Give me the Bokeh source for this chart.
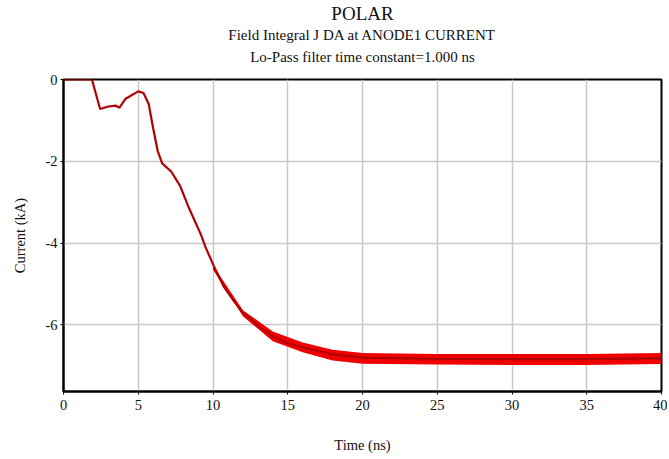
from bokeh.plotting import figure
from bokeh.models import Range1d, Title, FixedTicker, PrintfTickFormatter
from bokeh.embed import file_html
from bokeh.resources import INLINE

# Data
time_ns = [0, 1.9, 2.45, 3.0, 3.5, 3.75, 4.15, 5.0, 5.35, 5.7, 6.0, 6.3, 6.6, 7.2,
           7.8, 8.4, 9.2, 9.5, 10.1, 10.7, 11.4, 12.0, 12.5, 13.2, 14.0, 15.0, 16.0,
           18.0, 20.0, 25.0, 30.0, 35.0, 40.0]
current_ka = [0, 0, -0.72, -0.66, -0.64, -0.69, -0.47, -0.29, -0.33, -0.6, -1.2, -1.75,
              -2.05, -2.25, -2.6, -3.15, -3.8, -4.1, -4.6, -5.05, -5.42, -5.7, -5.85,
              -6.08, -6.28, -6.45, -6.55, -6.72, -6.80, -6.83, -6.84, -6.84, -6.82]

# Ripple envelope of the trace
ripple_t = [10, 12, 14, 16, 18, 20, 25, 30, 35, 40]
ripple_hi = [-4.55, -5.64, -6.16, -6.43, -6.61, -6.69, -6.71, -6.71, -6.71, -6.69]
ripple_lo = [-4.65, -5.79, -6.40, -6.67, -6.87, -6.95, -6.97, -6.98, -6.98, -6.96]

x_ticks = [0, 5, 10, 15, 20, 25, 30, 35, 40]
y_ticks = [0, -2, -4, -6]

FONT = "Liberation Serif"

p = figure(width=667, height=457, output_backend="svg", toolbar_location=None,
           x_range=Range1d(0, 40), y_range=Range1d(-7.63, 0),
           min_border_left=63, min_border_right=6, min_border_bottom=66, min_border_top=6)
p.title = Title(text="")
p.title.visible = False

p.add_layout(Title(text=" ", text_font_size="10px", standoff=0), "above")
for txt, size, so in [("Lo-Pass filter time constant=1.000 ns", "15px", 4),
                      ("Field Integral J DA at ANODE1 CURRENT", "15px", 3),
                      ("POLAR", "19px", 0)]:
    t = Title(text=txt, align="center", text_font=FONT, text_font_size=size,
              text_font_style="normal", text_color="#111111", standoff=so)
    p.add_layout(t, "above")

p.outline_line_color = "black"
p.outline_line_width = 2
p.background_fill_color = "white"
p.border_fill_color = "white"

p.xgrid.grid_line_color = "#c8c8c8"
p.ygrid.grid_line_color = "#c8c8c8"
p.xgrid.grid_line_width = 1.5
p.ygrid.grid_line_width = 1.5

p.xaxis.ticker = FixedTicker(ticks=x_ticks)
p.yaxis.ticker = FixedTicker(ticks=y_ticks)
p.yaxis.formatter = PrintfTickFormatter(format="%d")
for ax in (p.xaxis[0], p.yaxis[0]):
    ax.axis_line_color = "black"
    ax.axis_line_width = 2
    ax.major_tick_in = 0
    ax.major_tick_out = 3
    ax.minor_tick_line_color = None
    ax.major_label_text_font = FONT
    ax.major_label_text_font_size = "14.5px"
    ax.major_label_text_color = "#111111"
    ax.axis_label_text_font = FONT
    ax.axis_label_text_font_size = "14.5px"
    ax.axis_label_text_font_style = "normal"
    ax.axis_label_text_color = "#111111"

p.xaxis.major_label_standoff = 5
p.add_layout(Title(text=" ", text_font_size="18px", standoff=0), "below")
p.add_layout(Title(text="Time (ns)", align="center", text_font=FONT, text_font_size="14.5px",
                   text_font_style="normal", text_color="#111111", standoff=0), "below")
p.yaxis.axis_label = "Current (kA)"
p.yaxis.axis_label_standoff = 14
p.yaxis.major_label_standoff = 3

p.varea(x=ripple_t, y1=ripple_lo, y2=ripple_hi, fill_color="#f00000", fill_alpha=1.0)
p.line(time_ns, current_ka, line_color="#b00000", line_width=2.2)

open("out.html", "w").write(file_html(p, INLINE))
